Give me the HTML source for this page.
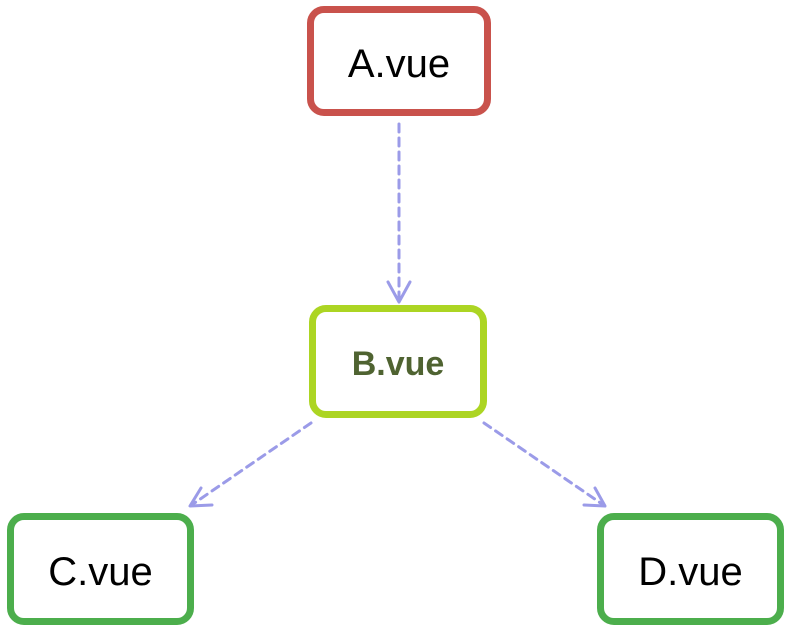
<!DOCTYPE html>
<html><head><style>
body{margin:0;background:#fff;width:790px;height:632px;overflow:hidden;position:relative;font-family:"Liberation Sans",sans-serif}
.b{position:absolute;box-sizing:border-box;border:7px solid;border-radius:17px;display:flex;align-items:center;justify-content:center;font-size:40px;color:#000;background:#fff;padding-top:6px}
</style></head><body>
<svg width="790" height="632" style="position:absolute;left:0;top:0">
<g stroke="#9b9be8" stroke-width="3" fill="none" stroke-dasharray="8,6" stroke-linecap="round">
<line x1="399" y1="124" x2="399" y2="300"/>
<line x1="311" y1="423" x2="193" y2="504"/>
<line x1="484" y1="423" x2="602" y2="504"/>
</g>
<g stroke="#9b9be8" stroke-width="3" fill="none" stroke-linecap="round" stroke-linejoin="round">
<polyline points="388,282 399,302 410,282"/>
<polyline points="201,488 190,506 212,505"/>
<polyline points="584,505 605,506 595,488"/>
</g>
</svg>
<div class="b" style="left:307px;top:6px;width:184px;height:110px;border-color:#c9524c">A.vue</div>
<div class="b" style="left:309px;top:305px;width:178px;height:113px;border-color:#acd523;color:#4f6331;font-weight:bold;font-size:34px">B.vue</div>
<div class="b" style="left:7px;top:513px;width:187px;height:112px;border-color:#4cae4c">C.vue</div>
<div class="b" style="left:597px;top:513px;width:187px;height:112px;border-color:#4cae4c">D.vue</div>
</body></html>
